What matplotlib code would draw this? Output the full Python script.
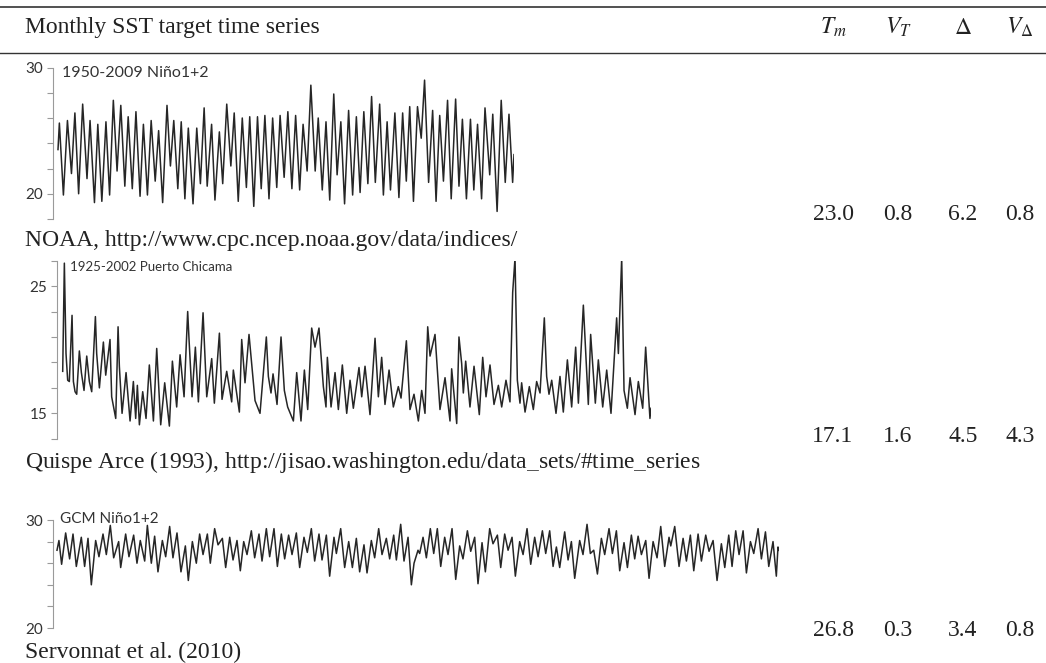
import numpy as np
import matplotlib
matplotlib.use("Agg")
import matplotlib.pyplot as plt

plt.rcParams["mathtext.fontset"] = "stix"

# ---- table content ----
title_text = "Monthly SST target time series"
col_heads = [r"$T_m$", r"$V_T$", r"$\Delta$", r"$V_\Delta$"]
row_values = [["23.0", "0.8", "6.2", "0.8"],
              ["17.1", "1.6", "4.5", "4.3"],
              ["26.8", "0.3", "3.4", "0.8"]]
sources = ["NOAA, http://www.cpc.ncep.noaa.gov/data/indices/",
           "Quispe Arce (1993), http://jisao.washington.edu/data$\\_$sets/#time$\\_$series",
           "Servonnat et al. (2010)"]
panel_labels = ["1950-2009 Niño1+2", "1925-2002 Puerto Chicama", "GCM Niño1+2"]

# ---- series 1: Niño1+2 1950-2009 (years since start, deg C; turning points) ----
t1 = [0.00, 0.18, 0.71, 1.24, 1.77, 2.22, 2.71, 3.24, 3.81, 4.21, 4.79, 5.23, 5.76, 6.30, 6.78,
      7.27, 7.76, 8.25, 8.78, 9.22, 9.76, 10.24, 10.78, 11.22, 11.75, 12.24, 12.77, 13.22, 13.75,
      14.32, 14.77, 15.21, 15.74, 16.19, 16.67, 17.12, 17.74, 18.23, 18.71, 19.20, 19.60, 20.18,
      20.62, 21.20, 21.64, 22.17, 22.71, 23.15, 23.68, 24.21, 24.75, 25.19, 25.72, 26.21, 26.70,
      27.18, 27.72, 28.20, 28.74, 29.18, 29.71, 30.20, 30.73, 31.22, 31.75, 32.20, 32.73, 33.22,
      33.79, 34.19, 34.72, 35.21, 35.70, 36.23, 36.67, 37.16, 37.65, 38.18, 38.71, 39.20, 39.69,
      40.18, 40.71, 41.20, 41.69, 42.26, 42.75, 43.24, 43.68, 44.26, 44.79, 45.28, 45.76, 46.21,
      46.70, 47.23, 47.72, 48.16, 48.69, 49.22, 49.67, 50.15, 50.64, 51.18, 51.66, 52.24, 52.68,
      53.13, 53.66, 54.19, 54.63, 55.12, 55.65, 56.10, 56.72, 57.12, 57.69, 58.23, 58.76, 59.25,
      59.73, 59.91]
sst1 = [23.5, 25.6, 19.9, 25.8, 21.6, 26.4, 20.0, 27.1, 21.2, 25.8, 19.3, 25.5, 19.4, 25.7, 19.9,
        27.4, 21.8, 27.0, 20.6, 26.1, 20.4, 26.5, 19.8, 25.5, 19.9, 25.8, 21.0, 25.0, 19.3,
        27.0, 22.2, 25.8, 20.4, 25.7, 19.6, 25.2, 19.2, 25.2, 20.8, 26.8, 20.6, 25.5,
        19.5, 24.9, 20.8, 27.1, 22.2, 26.4, 19.4, 26.0, 20.5, 26.1, 19.0, 26.1, 20.4,
        26.2, 19.6, 26.0, 20.5, 26.2, 21.3, 26.5, 20.4, 26.2, 20.3, 25.5, 21.8, 28.6,
        21.8, 26.0, 20.3, 25.7, 19.5, 27.9, 21.5, 25.7, 19.2, 26.6, 19.9, 26.1, 20.1,
        26.5, 20.8, 27.7, 20.9, 27.1, 19.9, 25.7, 20.3, 26.4, 19.7, 26.4, 21.0, 26.9,
        19.4, 26.9, 24.4, 29.0, 20.9, 26.6, 19.4, 26.2, 21.0, 27.4, 19.6, 27.5, 20.6,
        25.9, 19.6, 25.9, 20.3, 25.5, 19.6, 26.8, 21.5, 26.3, 18.6, 27.4, 20.9, 26.3,
        20.9, 23.1]

# ---- series 2: Puerto Chicama 1925-2002 ----
t2 = [0.00, 0.22, 0.44, 0.66, 0.88, 1.24, 1.42, 1.64, 1.86, 2.21, 2.48, 2.83, 3.19, 3.54, 3.85,
      4.34, 4.51, 4.87, 5.40, 5.71, 6.28, 6.50, 7.04, 7.35, 7.52, 7.88, 8.41, 8.94, 9.38, 9.69,
      9.91, 10.18, 10.62, 11.06, 11.50, 12.04, 12.48, 13.01, 13.54, 14.16, 14.56, 15.13, 15.58,
      16.11, 16.59, 16.77, 17.17, 17.61, 18.01, 18.63, 19.12, 19.78, 20.13, 20.80, 21.15, 21.77,
      22.43, 22.65, 23.45, 23.76,
      24.20, 24.73, 25.53, 26.19, 27.03, 27.30, 27.65, 27.92, 28.45, 28.98, 29.42, 29.86, 30.62,
      31.06, 31.63, 32.08, 32.52, 33.05, 33.49, 34.02, 34.60, 34.95, 35.13, 35.62, 36.15, 36.59,
      37.12, 37.70, 38.14, 38.58, 39.33, 39.69, 40.13, 40.79, 41.46, 41.90, 42.34, 42.78, 43.32,
      43.89, 44.55, 44.91, 45.62, 46.10, 46.63, 47.21, 47.65, 48.09, 48.45, 48.76, 49.42, 50.08,
      50.75, 51.41,
      51.63, 52.30, 52.60, 52.96, 53.18, 53.49, 54.06, 54.60, 55.30, 55.75, 56.19, 56.72, 57.25,
      57.83, 58.27, 58.84, 59.37, 59.73, 60.04, 60.35, 60.70, 60.92, 61.37, 61.94, 62.47, 62.91,
      63.36, 63.93, 64.24, 64.55, 64.91, 65.48, 66.01, 66.45, 66.99, 67.56, 68.09, 68.45, 69.11,
      69.33, 69.77, 70.08, 70.70, 71.10, 71.68, 72.21, 72.78, 73.31, 73.53, 73.76, 74.20, 74.51,
      74.95, 75.31, 75.97, 76.41, 76.99, 77.38, 77.95, 78.09]
sst2 = [18.3, 26.8, 19.7, 17.6, 17.5, 22.7, 17.5, 16.7, 16.5, 19.9, 18.2, 16.8, 19.5, 17.5, 16.7,
        22.6, 19.7, 17.0, 20.6, 18.0, 20.8, 16.3, 14.6, 21.8, 18.7, 15.0, 18.2, 14.4, 17.5, 14.6,
        17.2, 14.1, 16.7, 14.6, 18.8, 14.4, 20.1, 14.1, 17.4, 14.0, 19.1, 15.5, 19.6,
        16.3, 23.0, 20.8, 16.3, 20.2, 15.9, 22.9, 16.3, 19.3, 15.8, 21.3, 16.1, 18.3,
        15.9, 18.4, 15.1, 20.8,
        17.4, 21.2, 16.0, 15.0, 21.0, 17.9, 16.6, 18.1, 15.7, 21.0, 16.8, 15.5, 14.4,
        18.2, 14.4, 18.4, 15.3, 21.7, 20.2, 21.7, 17.1, 15.5, 19.4, 15.5, 18.2, 15.3,
        18.8, 15.0, 17.6, 15.4, 18.6, 16.3, 18.7, 14.9, 20.9, 16.3, 19.4, 15.7, 18.4,
        15.5, 17.1, 16.2, 20.7, 15.3, 16.5, 14.4, 16.8, 15.0, 21.8, 19.5, 21.2, 15.3,
        17.8, 14.4,
        18.5, 14.2, 21.0, 18.9, 16.6, 19.1, 15.5, 18.7, 14.9, 19.4, 16.3, 18.8, 15.7,
        17.2, 15.5, 17.6, 15.9, 24.5, 27.2, 17.6, 15.8, 17.4, 15.1, 17.1, 15.3, 17.5,
        16.6, 22.5, 17.9, 16.5, 17.6, 15.0, 17.9, 15.1, 19.2, 15.5, 20.2, 15.8, 23.5,
        20.9, 15.7, 21.2, 15.8, 19.2, 15.5, 18.4, 15.0, 20.2, 22.5, 19.7, 27.2, 16.8,
        15.4, 17.8, 14.9, 17.5, 15.4, 20.2, 14.6, 15.4]

# ---- series 3: GCM Niño1+2 ----
t3 = [0.05, 0.32, 0.69, 1.25, 1.80, 2.27, 2.73, 3.42, 3.88, 4.35, 4.81, 5.41, 5.87, 6.43, 6.89,
      7.44, 7.91, 8.60, 8.88, 9.57, 10.03, 10.68, 11.14, 11.60, 12.21, 12.58, 13.13, 13.59, 14.05,
      14.66, 15.12, 15.67, 16.13, 16.69, 17.24, 17.85, 18.26, 18.82, 19.37, 19.83, 20.30, 20.90,
      21.31, 21.91, 22.38, 22.98, 23.44, 24.00, 24.46, 25.01, 25.47, 25.94, 26.40, 27.00, 27.46,
      28.06, 28.48, 29.08, 29.54, 30.14, 30.61, 31.16, 31.62,
      32.17, 32.64, 33.24, 33.70, 34.30, 34.76, 35.32, 35.78, 36.38, 36.80, 37.40, 37.86, 38.46,
      38.79, 39.39, 39.94, 40.50, 41.01, 41.56, 42.02, 42.62, 43.04, 43.64, 44.10, 44.66, 45.12,
      45.72, 46.18, 46.74, 47.11, 47.71, 48.17, 48.73, 49.19, 49.56, 50.11, 50.34, 50.81, 51.27,
      51.82, 52.29, 52.79, 53.26, 53.81, 54.27, 54.83, 55.34, 55.89, 56.35, 56.96, 57.42, 57.97,
      58.43, 58.99, 59.45, 60.05, 60.51, 61.12, 61.58, 62.13, 62.60, 63.15, 63.61, 64.21, 64.68,
      65.23, 65.74,
      66.29, 66.76, 67.36, 67.82, 68.37, 68.84, 69.30, 69.76, 70.45, 70.92, 71.38, 71.84, 72.53,
      72.99, 73.55, 74.01, 74.48, 74.99, 75.54, 76.00, 76.60, 77.07, 77.62, 78.08, 78.68, 79.15,
      79.70, 80.16, 80.63, 81.09, 81.69, 82.15, 82.71, 83.26, 83.77, 84.32, 84.92, 85.16, 85.71,
      86.31, 86.87, 87.33, 87.88, 88.35, 88.95, 89.41, 90.01, 90.47, 91.03, 91.58, 92.18, 92.65,
      93.20, 93.66, 94.17, 94.63, 95.19, 95.65, 96.21, 96.67, 97.27, 97.73, 98.29, 98.75, 99.34,
      99.80, 100.03, 100.17]
sst3 = [27.2, 28.1, 25.9, 28.8, 26.4, 28.7, 25.7, 28.4, 25.7, 28.3, 24.0, 28.1, 26.6, 28.7, 26.8,
        29.5, 26.5, 28.0, 25.6, 28.7, 26.6, 28.6, 26.0, 28.1, 26.2, 29.5, 26.0, 28.5, 25.2,
        28.1, 26.6, 29.4, 26.5, 28.8, 25.2, 27.6, 24.4, 28.0, 26.0, 28.7, 26.8, 28.7,
        26.0, 29.2, 27.7, 28.3, 25.6, 28.4, 26.3, 28.1, 25.3, 28.0, 26.8, 29.0, 26.5,
        28.7, 26.2, 29.2, 26.6, 29.2, 25.7, 28.7, 26.4,
        28.6, 26.8, 28.8, 25.6, 28.4, 27.0, 29.2, 26.2, 28.7, 26.3, 28.6, 24.8, 28.4,
        26.9, 29.2, 25.6, 28.0, 25.6, 28.3, 25.2, 27.7, 25.1, 28.1, 26.5, 29.2, 26.8,
        28.3, 26.4, 28.6, 26.3, 29.6, 26.2, 28.4, 24.0, 26.0, 27.2, 26.9, 28.4, 26.5,
        29.2, 26.9, 29.2, 25.7, 28.4, 26.8, 29.2, 24.5, 27.6, 26.4, 29.0, 27.1, 28.4,
        24.1, 27.9, 25.2, 29.2, 27.8, 28.6, 25.6, 28.7, 27.2, 28.4, 24.8, 28.0, 26.8,
        29.2, 25.9,
        28.4, 26.6, 29.0, 26.9, 29.0, 25.7, 27.5, 25.6, 28.9, 26.3, 28.0, 24.6, 28.1,
        26.8, 29.6, 26.9, 27.2, 25.0, 28.3, 26.8, 29.2, 26.9, 29.0, 25.3, 27.9, 25.6,
        28.6, 26.4, 28.5, 26.8, 28.1, 24.6, 28.0, 26.5, 29.4, 25.7, 28.4, 27.6, 29.4,
        25.7, 28.3, 26.2, 28.6, 25.3, 28.7, 26.2, 28.6, 27.1, 28.1, 24.4, 27.8, 25.6,
        28.6, 25.7, 29.0, 26.8, 29.0, 25.1, 28.0, 26.9, 29.2, 26.4, 28.9, 25.7, 28.0,
        24.8, 27.5, 27.2]

# ---- layout in pixels (figure is 1046 x 663) ----
W, H = 1046, 663
fig = plt.figure(figsize=(W / 100, H / 100), dpi=100)

def fx(x): return x / W
def fy(y): return 1 - y / H

serif = ["Liberation Serif", "DejaVu Serif"]
sans = ["Lato", "DejaVu Sans"]
ink = "#222222"

# rules
fig.add_artist(plt.Line2D([0, 1], [fy(7), fy(7)], color="#333333", lw=1.2))
fig.add_artist(plt.Line2D([0, 1], [fy(52.5), fy(52.5)], color="#333333", lw=1.0))

fig.text(fx(25), fy(27), title_text, family=serif, fontsize=17, color=ink, va="center")
col_x = [833, 898, 963, 1020]
for cx, head in zip(col_x, col_heads):
    fig.text(fx(cx), fy(27), head, fontsize=17, color=ink, ha="center", va="center")

# panel boxes: (spine x, data start x, data end x, top y, bottom y)
panels = [
    dict(t=t1, v=sst1, box=(53, 58, 514, 67.5, 219), ylim=(18, 30),
         ticks=np.arange(18, 31, 2), show=(20, 30), lab_xy=(62, 73), lab_fs=11.5,
         row_y=214, src_y=240),
    dict(t=t2, v=sst2, box=(57, 62.7, 651, 260.6, 438.8), ylim=(13, 27),
         ticks=np.arange(13, 28, 2), show=(15, 25), lab_xy=(70, 267), lab_fs=9.5,
         row_y=436, src_y=462),
    dict(t=t3, v=sst3, box=(52.7, 57, 779, 520, 628), ylim=(20, 30),
         ticks=np.arange(20, 31, 2), show=(20, 30), lab_xy=(60, 519), lab_fs=11,
         row_y=630, src_y=652),
]

for i, p in enumerate(panels):
    sx, x0, x1, top, bot = p["box"]
    ax = fig.add_axes([fx(sx), fy(bot), fx(x1 - sx), (bot - top) / H])
    t = np.asarray(p["t"])
    pad = (x0 - sx) / (x1 - x0) * (t[-1] - t[0])
    ax.plot(t, p["v"], color="#262626", lw=1.1, solid_joinstyle="round")
    ax.set_xlim(t[0] - pad, t[-1])
    ax.set_ylim(*p["ylim"])
    ax.patch.set_visible(False)
    for side in ["top", "right", "bottom"]:
        ax.spines[side].set_visible(False)
    ax.spines["left"].set_color("#9a9a9a")
    ax.spines["left"].set_linewidth(0.8)
    ax.set_xticks([])
    ax.set_yticks(p["ticks"])
    ax.set_yticklabels([str(int(v)) if int(v) in p["show"] else "" for v in p["ticks"]],
                       family=sans, fontsize=11, color="#333333")
    ax.tick_params(axis="y", direction="out", length=4, width=0.8, color="#9a9a9a", pad=3)
    fig.text(fx(p["lab_xy"][0]), fy(p["lab_xy"][1]), panel_labels[i], family=sans,
             fontsize=p["lab_fs"], color="#333333", va="center")
    for cx, val in zip(col_x, row_values[i]):
        fig.text(fx(cx), fy(p["row_y"]), val, family=serif, fontsize=17, color=ink,
                 ha="center", va="center")
    fig.text(fx(25), fy(p["src_y"]), sources[i], family=serif, fontsize=17, color=ink,
             va="center")

fig.savefig("out.png", dpi=100)
